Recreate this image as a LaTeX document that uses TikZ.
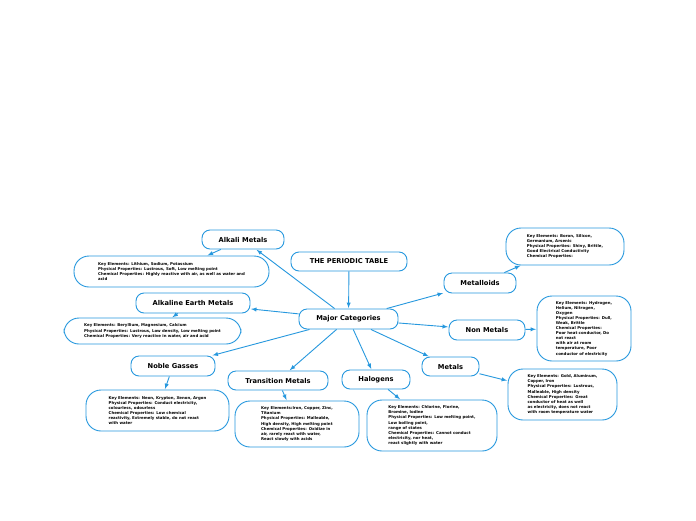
\documentclass[tikz,border=0pt]{standalone}
\usepackage{fontspec}
\setmainfont{DejaVu Sans}
\usepackage{tikz}
\tikzset{>=latex}
\definecolor{mapblue}{RGB}{38,152,222}

\begin{document}
\begin{tikzpicture}[x=1pt, y=-1pt,
    topic/.style={draw=mapblue, line width=0.9pt, fill=white, rounded corners=8pt, inner sep=0pt, font=\fontsize{6.7}{8}\selectfont\bfseries},
    detail/.style={draw=mapblue, line width=0.9pt, fill=white, rounded corners=15pt, inner sep=1pt, align=left, font=\fontsize{3.9}{5.1}\selectfont\bfseries},
    link/.style={->, draw=mapblue, line width=0.9pt, shorten >=0.5pt}]
    \useasboundingbox[fill=white](0, 0)rectangle(696, 520);
    % main topics
    \node[topic, minimum width=116pt, minimum height=19pt] (table) at (349, 261.5) {THE PERIODIC TABLE};
    \node[topic, minimum width=99pt, minimum height=20pt] (major) at (348.5, 319) {Major Categories};
    \node[topic, minimum width=82pt, minimum height=19pt] (alkali) at (243, 239.5) {Alkali Metals};
    \node[topic, minimum width=114pt, minimum height=20pt] (earth) at (193, 303) {Alkaline Earth Metals};
    \node[topic, minimum width=84pt, minimum height=20pt] (noble) at (173, 366) {Noble Gasses};
    \node[topic, minimum width=100pt, minimum height=19pt] (trans) at (278, 380.5) {Transition Metals};
    \node[topic, minimum width=68pt, minimum height=19pt] (halo) at (376, 379.5) {Halogens};
    \node[topic, minimum width=57pt, minimum height=19pt] (metals) at (450.5, 366.5) {Metals};
    \node[topic, minimum width=76pt, minimum height=20pt] (nonmet) at (487, 330) {Non Metals};
    \node[topic, minimum width=72pt, minimum height=20pt] (metalloid) at (480, 283) {Metalloids};
    % details
    \node[detail, minimum width=195pt, minimum height=31pt] (alkaliinfo) at (171.5, 271.5) {Key Elements: Lithium, Sodium, Potassium\\Physical Properties: Lustrous, Soft, Low melting point\\Chemical Properties: Highly reactive with air, as well as water and\\acid};
    \node[detail, minimum width=177pt, minimum height=26pt] (earthinfo) at (152.5, 331) {Key Elements: Beryllium, Magnesium, Calcium\\Physical Properties: Lustrous, Low density, Low melting point\\Chemical Properties: Very reactive in water, air and acid};
    \node[detail, minimum width=143pt, minimum height=41pt] (nobleinfo) at (157.5, 410.5) {Key Elements: Neon, Krypton, Xenon, Argon\\Physical Properties: Conduct electricity,\\colourless, odourless\\Chemical Properties: Low chemical\\reactivity, Extremely stable, do not react\\with water};
    \node[detail, minimum width=124pt, minimum height=46pt] (transinfo) at (297, 424) {Key Elements:Iron, Copper, Zinc,\\Titanium\\Physical Properties: Malleable,\\High density, High melting point\\Chemical Properties: Oxidize in\\air, rarely react with water,\\React slowly with acids};
    \node[detail, minimum width=130pt, minimum height=51pt] (haloinfo) at (432, 425.5) {Key Elements: Chlorine, Florine,\\Bromine, Iodine\\Physical Properties: Low melting point,\\Low boiling point,\\range of states\\Chemical Properties: Cannot conduct\\electricity, nor heat,\\react slightly with water};
    \node[detail, minimum width=109pt, minimum height=51pt] (metalsinfo) at (562.5, 394.5) {Key Elements: Gold, Aluminum,\\Copper, Iron\\Physical Properties: Lustrous,\\Malleable, High density\\Chemical Properties: Great\\conductor of heat as well\\as electricity, does not react\\with room temperature water};
    \node[detail, minimum width=94pt, minimum height=65pt] (nonmetinfo) at (584, 328.5) {Key Elements: Hydrogen,\\Helium, Nitrogen,\\Oxygen\\Physical Properties: Dull,\\Weak, Brittle\\Chemical Properties:\\Poor heat conductor, Do\\not react\\with air at room\\temperature, Poor\\conductor of electricity};
    \node[detail, minimum width=118pt, minimum height=37pt] (metalloidinfo) at (565, 246.5) {Key Elements: Boron, Silicon,\\Germanium, Arsenic\\Physical Properties: Shiny, Brittle,\\Good Electrical Conductivity\\Chemical Properties:};
    % connectors
    \draw[link](table)--(major);
    \foreach \topicname in {alkali, earth, noble, trans, halo, metals, nonmet, metalloid}
        \draw[link](major)--(\topicname);
    \foreach \topicname in {alkali, earth, noble, trans, halo, metals, nonmet, metalloid}
        \draw[link](\topicname)--(\topicname info);
\end{tikzpicture}
\end{document}
